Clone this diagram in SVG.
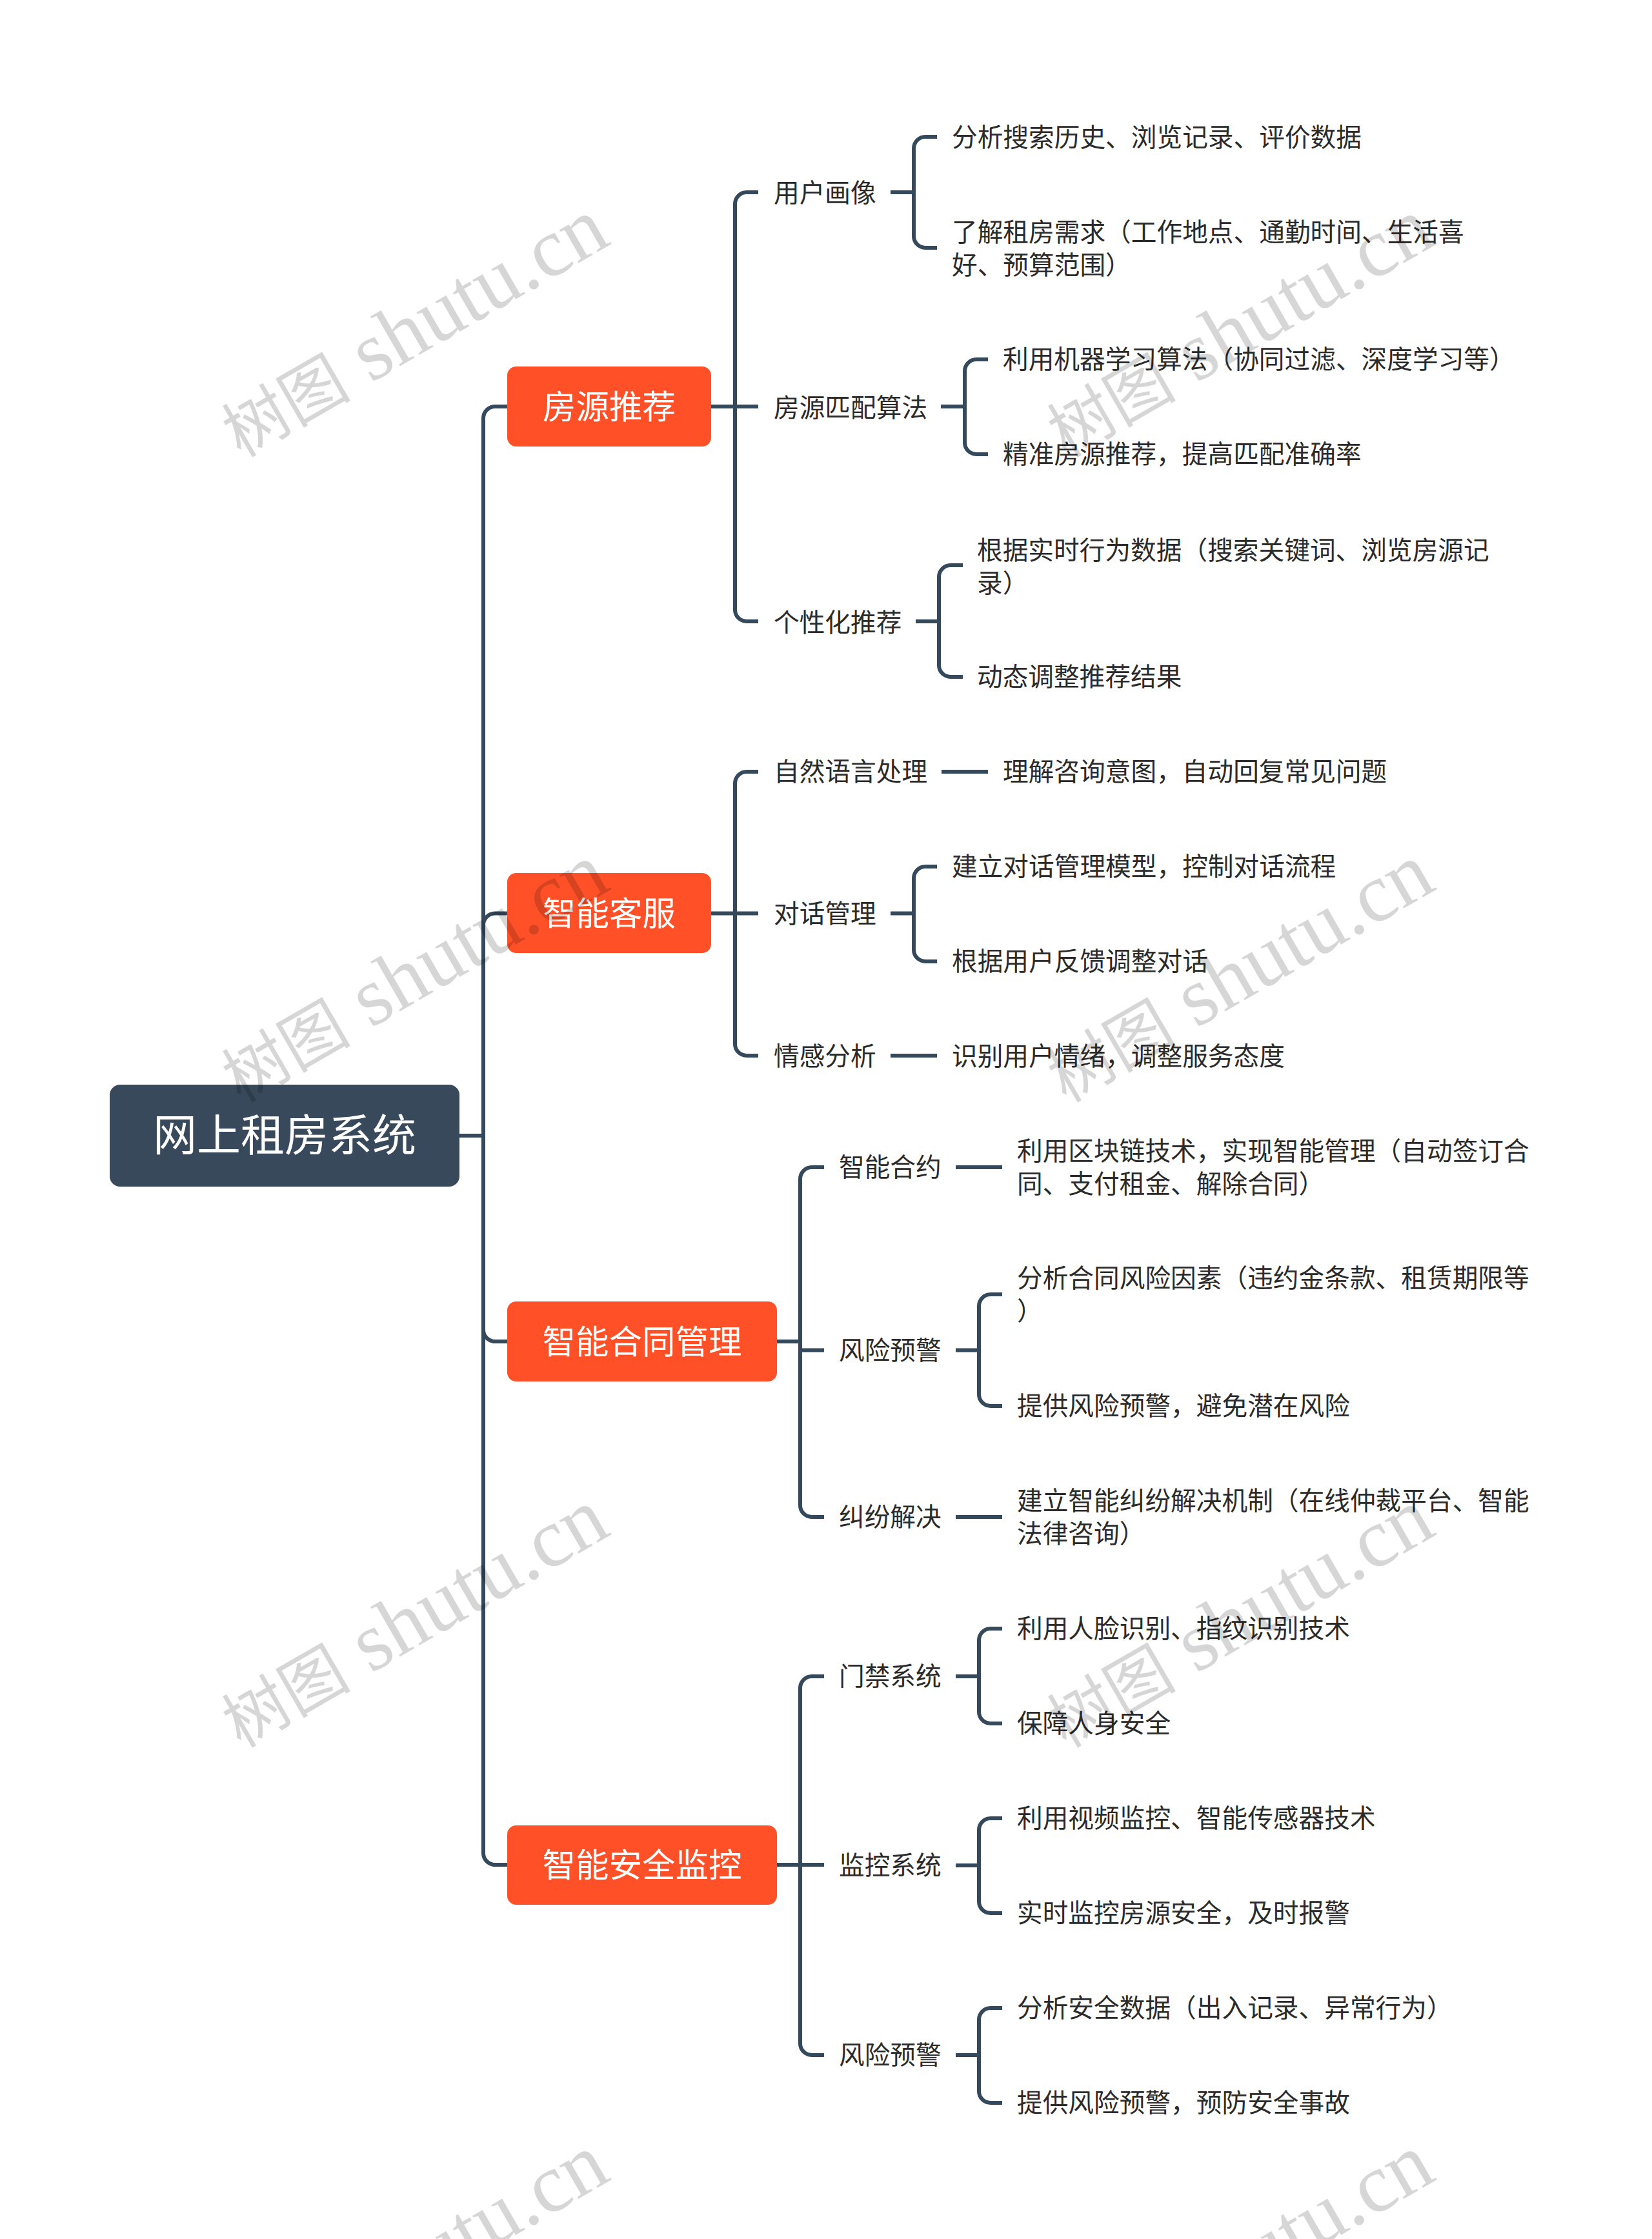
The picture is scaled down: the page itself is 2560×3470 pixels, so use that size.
<svg xmlns="http://www.w3.org/2000/svg" width="2560" height="3470" viewBox="0 0 2560 3470">
<style>
.c{fill:none;stroke:#34495c;stroke-width:6}
text{font-family:"Noto Sans CJK SC","Noto Sans",sans-serif}
.t{font-size:39.7px;fill:#2b2b2b}
.n{font-size:51.5px;fill:#fff;text-anchor:middle}
.r{font-size:68px;fill:#fff;text-anchor:middle}
.o{fill:#ff5028}
.w{font-family:"Liberation Serif","Noto Sans CJK SC",serif;font-size:129px;fill:#000;fill-opacity:.16}
.w tspan{font-family:"Noto Sans CJK SC",serif;font-size:100px}
</style>
<rect width="2560" height="3470" fill="#fff"/>
<g id="connectors" class="c">
<path d="M711 1760H749"/>
<path d="M786 630H767a18 18 0 0 0-18 18V2872a18 18 0 0 0 18 18H786"/>
<path d="M786 1415.500H767a18 18 0 0 0-18 18"/>
<path d="M786 2079H767a18 18 0 0 1-18-18"/>
<path d="M1102 630H1175M1175 298H1157a18 18 0 0 0-18 18V945a18 18 0 0 0 18 18H1175"/>
<path d="M1380 298H1416M1452 212H1434a18 18 0 0 0-18 18V366a18 18 0 0 0 18 18H1452"/>
<path d="M1458 630H1495M1531 557H1513a18 18 0 0 0-18 18V686a18 18 0 0 0 18 18H1531"/>
<path d="M1419 963H1455M1492 876H1473a18 18 0 0 0-18 18V1031a18 18 0 0 0 18 18H1492"/>
<path d="M1102 1415.500H1175M1175 1196H1157a18 18 0 0 0-18 18V1618a18 18 0 0 0 18 18H1175"/>
<path d="M1459 1196H1531"/>
<path d="M1380 1415.500H1416M1452 1343H1434a18 18 0 0 0-18 18V1472a18 18 0 0 0 18 18H1452"/>
<path d="M1380 1636H1452"/>
<path d="M1203 2079H1240M1277 1809H1258a18 18 0 0 0-18 18V2333a18 18 0 0 0 18 18H1277M1240 2092.500H1277"/>
<path d="M1481 1809H1553"/>
<path d="M1481 2092.500H1517M1553 2006H1535a18 18 0 0 0-18 18V2161a18 18 0 0 0 18 18H1553"/>
<path d="M1481 2351H1553"/>
<path d="M1203 2890H1277M1277 2598H1258a18 18 0 0 0-18 18V3167a18 18 0 0 0 18 18H1277"/>
<path d="M1481 2598H1517M1553 2524H1535a18 18 0 0 0-18 18V2653a18 18 0 0 0 18 18H1553"/>
<path d="M1481 2891H1517M1553 2818H1535a18 18 0 0 0-18 18V2947a18 18 0 0 0 18 18H1553"/>
<path d="M1481 3185H1517M1553 3112H1535a18 18 0 0 0-18 18V3241a18 18 0 0 0 18 18H1553"/>
</g>
<g id="root"><rect x="170" y="1681" width="542" height="158" rx="16" fill="#37495a"/><text class="r" x="441" y="1784">网上租房系统</text></g>
<g id="n1"><rect class="o" x="786" y="568" width="316" height="124" rx="14"/><text class="n" x="944" y="649">房源推荐</text></g>
<g id="n2"><rect class="o" x="786" y="1353" width="316" height="124" rx="14"/><text class="n" x="944" y="1434">智能客服</text></g>
<g id="n3"><rect class="o" x="786" y="2017" width="418" height="124" rx="14"/><text class="n" x="995" y="2098">智能合同管理</text></g>
<g id="n4"><rect class="o" x="786" y="2829" width="418" height="123" rx="14"/><text class="n" x="995" y="2909">智能安全监控</text></g>
<g id="n11"><text class="t" x="1199" y="313">用户画像</text></g>
<g id="n111"><text class="t" x="1475" y="227">分析搜索历史、浏览记录、评价数据</text></g>
<g id="n112"><text class="t" x="1475" y="374">了解租房需求（工作地点、通勤时间、生活喜</text><text class="t" x="1475" y="425">好、预算范围）</text></g>
<g id="n12"><text class="t" x="1199" y="646">房源匹配算法</text></g>
<g id="n121"><text class="t" x="1554" y="571">利用机器学习算法（协同过滤、深度学习等）</text></g>
<g id="n122"><text class="t" x="1554" y="718">精准房源推荐，提高匹配准确率</text></g>
<g id="n13"><text class="t" x="1199" y="979">个性化推荐</text></g>
<g id="n131"><text class="t" x="1514" y="867">根据实时行为数据（搜索关键词、浏览房源记</text><text class="t" x="1514" y="918">录）</text></g>
<g id="n132"><text class="t" x="1514" y="1063">动态调整推荐结果</text></g>
<g id="n21"><text class="t" x="1199" y="1210">自然语言处理</text></g>
<g id="n211"><text class="t" x="1554" y="1210">理解咨询意图，自动回复常见问题</text></g>
<g id="n22"><text class="t" x="1199" y="1430">对话管理</text></g>
<g id="n221"><text class="t" x="1475" y="1357">建立对话管理模型，控制对话流程</text></g>
<g id="n222"><text class="t" x="1475" y="1504">根据用户反馈调整对话</text></g>
<g id="n23"><text class="t" x="1199" y="1651">情感分析</text></g>
<g id="n231"><text class="t" x="1475" y="1651">识别用户情绪，调整服务态度</text></g>
<g id="n31"><text class="t" x="1300" y="1823">智能合约</text></g>
<g id="n311"><text class="t" x="1576" y="1798">利用区块链技术，实现智能管理（自动签订合</text><text class="t" x="1576" y="1849">同、支付租金、解除合同）</text></g>
<g id="n32"><text class="t" x="1300" y="2107">风险预警</text></g>
<g id="n321"><text class="t" x="1576" y="1995">分析合同风险因素（违约金条款、租赁期限等</text><text class="t" x="1576" y="2046">）</text></g>
<g id="n322"><text class="t" x="1576" y="2193">提供风险预警，避免潜在风险</text></g>
<g id="n33"><text class="t" x="1300" y="2365">纠纷解决</text></g>
<g id="n331"><text class="t" x="1576" y="2340">建立智能纠纷解决机制（在线仲裁平台、智能</text><text class="t" x="1576" y="2391">法律咨询）</text></g>
<g id="n41"><text class="t" x="1300" y="2612">门禁系统</text></g>
<g id="n411"><text class="t" x="1576" y="2538">利用人脸识别、指纹识别技术</text></g>
<g id="n412"><text class="t" x="1576" y="2685">保障人身安全</text></g>
<g id="n42"><text class="t" x="1300" y="2905">监控系统</text></g>
<g id="n421"><text class="t" x="1576" y="2832">利用视频监控、智能传感器技术</text></g>
<g id="n422"><text class="t" x="1576" y="2979">实时监控房源安全，及时报警</text></g>
<g id="n43"><text class="t" x="1300" y="3199">风险预警</text></g>
<g id="n431"><text class="t" x="1576" y="3126">分析安全数据（出入记录、异常行为）</text></g>
<g id="n432"><text class="t" x="1576" y="3273">提供风险预警，预防安全事故</text></g>
<g id="watermarks">
<text class="w" transform="translate(373 710) rotate(-30)"><tspan>树图</tspan> shutu.cn</text>
<text class="w" transform="translate(1652 710) rotate(-30)"><tspan>树图</tspan> shutu.cn</text>
<text class="w" transform="translate(373 1710) rotate(-30)"><tspan>树图</tspan> shutu.cn</text>
<text class="w" transform="translate(1652 1710) rotate(-30)"><tspan>树图</tspan> shutu.cn</text>
<text class="w" transform="translate(373 2710) rotate(-30)"><tspan>树图</tspan> shutu.cn</text>
<text class="w" transform="translate(1652 2710) rotate(-30)"><tspan>树图</tspan> shutu.cn</text>
<text class="w" transform="translate(373 3710) rotate(-30)"><tspan>树图</tspan> shutu.cn</text>
<text class="w" transform="translate(1652 3710) rotate(-30)"><tspan>树图</tspan> shutu.cn</text>
</g>
</svg>
